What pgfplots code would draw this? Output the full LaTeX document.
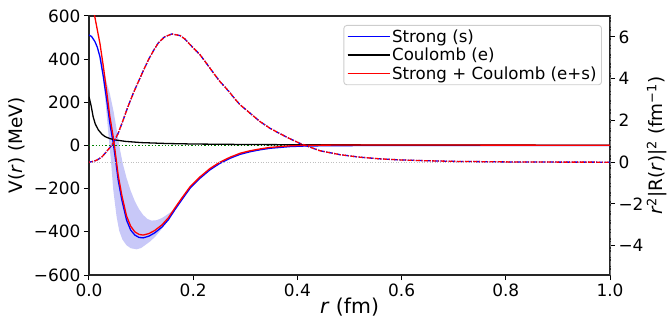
\documentclass[border=0pt]{standalone}
\usepackage{fontspec}
\setmainfont{DejaVu Sans}
\usepackage{pgfplots}
\usepackage{pgfplotstable}
\pgfplotsset{compat=1.18}

\pgfplotstableread{
r V
0 512
0.005 505
0.0115 481
0.016 455
0.021 411
0.0275 319
0.034 211
0.040 103
0.0466 10
0.051 -67
0.056 -160
0.063 -252
0.072 -345
0.080 -392
0.088 -415
0.096 -426
0.104 -428
0.115 -420
0.126 -405
0.14 -378
0.152 -345
0.165 -297
0.178 -252
0.194 -198
0.213 -152
0.232 -113
0.251 -83
0.271 -59
0.29 -41
0.309 -29
0.328 -20
0.347 -13
0.386 -5
0.42 -2
0.5 -0.5
0.6 0
1.0 0
}\strongtab

\pgfplotstableread{
r V
0 226
0.004 185
0.008 133
0.012 100
0.018 72
0.025 52
0.031 41
0.04 32
0.05 26
0.07 19
0.1 13.5
0.15 9.2
0.2 6.9
0.3 4.6
0.4 3.5
0.6 2.3
0.8 1.7
1.0 1.4
}\coultab

\pgfplotstableread{
r V
0 738
0.005 680
0.0115 592
0.016 535
0.021 473
0.0275 367
0.034 249
0.040 135
0.0466 38
0.051 -42
0.056 -137
0.063 -231
0.072 -326
0.080 -374
0.088 -400
0.096 -412
0.104 -415
0.115 -408
0.126 -394
0.14 -368
0.152 -336
0.165 -289
0.178 -244
0.194 -191
0.213 -145.5
0.232 -107
0.251 -77.5
0.271 -54
0.29 -36
0.309 -24.5
0.328 -16
0.347 -9
0.386 -1.4
0.42 1.3
0.5 2.3
0.6 2.3
0.8 1.7
1.0 1.4
}\sumtab

\pgfplotstableread{
r P
0 0
0.01 0.05
0.018 0.14
0.025 0.26
0.031 0.43
0.04 0.70
0.048 0.97
0.056 1.39
0.065 1.98
0.075 2.67
0.085 3.30
0.095 3.87
0.105 4.42
0.114 4.90
0.124 5.35
0.133 5.71
0.145 6.00
0.159 6.14
0.175 6.06
0.184 5.90
0.194 5.63
0.203 5.40
0.213 5.15
0.222 4.85
0.232 4.51
0.241 4.20
0.251 3.87
0.261 3.60
0.271 3.31
0.28 3.03
0.29 2.75
0.309 2.35
0.328 1.95
0.347 1.63
0.367 1.36
0.386 1.12
0.405 0.90
0.443 0.55
0.482 0.36
0.52 0.24
0.559 0.16
0.597 0.11
0.641 0.075
0.7 0.04
0.8 0.015
0.9 0.005
1.0 0.002
}\wavetab

\definecolor{dgreen}{RGB}{0,128,0}
\definecolor{bandblue}{RGB}{200,200,248}
\definecolor{legframe}{RGB}{205,205,205}

\begin{document}
\begin{tikzpicture}
\path[use as bounding box] (-89bp,-50bp) rectangle (579bp,275bp);
\begin{axis}[
  at={(0,0)}, anchor=south west,
  scale only axis, width=521bp, height=259bp,
  xmin=0, xmax=1, ymin=-600, ymax=600,
  xtick={0,0.2,0.4,0.6,0.8,1.0}, xticklabels={0.0,0.2,0.4,0.6,0.8,1.0},
  ytick={-600,-400,-200,0,200,400,600},
  yticklabels={−600,−400,−200,0,200,400,600},
  tick align=outside, xtick pos=bottom, ytick pos=left,
  major tick length=5bp,
  every tick/.style={black, line width=1bp},
  axis line style={line width=1.1bp, black!85},
  tick label style={font=\fontsize{17}{20}\selectfont},
  every axis x label/.style={at={(axis description cs:0.5,0)}, anchor=center, yshift=-32bp, font=\fontsize{20.5}{24}\selectfont},
  every axis y label/.style={at={(axis description cs:0,0.5)}, rotate=90, anchor=center, yshift=72bp, font=\fontsize{18.5}{22}\selectfont},
  xlabel={\textit{r} (fm)},
  ylabel={V(\textit{r}) (MeV)},
  legend cell align=left,
  legend style={at={(axis description cs:0.9846,0.9653)}, anchor=north east,
    draw=legframe, line width=0.9bp, rounded corners=3bp, fill=white,
    font=\fontsize{16.7}{19}\selectfont, inner xsep=3bp, inner ysep=2bp,
    row sep=0.5bp},
  legend image code/.code={\draw[#1, line width=1.3bp] (0bp,0bp) -- (34bp,0bp); \path (0bp,0bp) -- (42bp,0bp);},
]
\addplot[forget plot, fill=bandblue, draw=none] coordinates {
(0.021,412) (0.026,330) (0.031,220) (0.0355,100) (0.0385,20) (0.042,-67)
(0.0466,-206) (0.053,-330) (0.058,-395) (0.064,-435) (0.072,-462) (0.08,-476)
(0.0914,-481) (0.1,-475) (0.107,-463) (0.117,-445) (0.127,-423) (0.14,-385) (0.15,-350)
(0.17,-278) (0.16,-303) (0.149,-322) (0.14,-336) (0.13,-346) (0.12,-348) (0.112,-340)
(0.104,-322) (0.096,-295) (0.088,-258) (0.08,-210) (0.072,-150) (0.065,-85) (0.06,-25)
(0.056,30) (0.052,90) (0.047,160) (0.04,240) (0.033,300) (0.027,370) (0.023,410)
} -- cycle;
\addplot[forget plot, dgreen, line width=1.2bp, dash pattern=on 1.3bp off 2bp] coordinates {(0,0) (1,0)};
\addplot[blue, line width=1.3bp] table[x=r,y=V] {\strongtab};
\addlegendentry{Strong (s)}
\addplot[black, line width=1.3bp] table[x=r,y=V] {\coultab};
\addlegendentry{Coulomb (e)}
\addplot[red, line width=1.3bp] table[x=r,y=V] {\sumtab};
\addlegendentry{Strong + Coulomb (e+s)}
\end{axis}
\begin{axis}[
  at={(0,0)}, anchor=south west,
  scale only axis, width=521bp, height=259bp,
  xmin=0, xmax=1, ymin=-5.4, ymax=7.0,
  axis x line=none, axis y line*=right,
  ytick={-4,-2,0,2,4,6}, yticklabels={−4,−2,0,2,4,6},
  tick align=outside, major tick length=5bp,
  every tick/.style={black, line width=1bp},
  y axis line style={black!55, line width=1bp, dash pattern=on 5bp off 1.5bp on 1.2bp off 1.5bp},
  tick label style={font=\fontsize{17}{20}\selectfont},
  every axis y label/.style={at={(axis description cs:1,0.5)}, rotate=90, anchor=center, yshift=-47bp, font=\fontsize{18.5}{22}\selectfont},
  ylabel={\textit{r}\textsuperscript{2}|R(\textit{r})|\textsuperscript{2} (fm\textsuperscript{−1})},
]
\addplot[black!25, line width=1bp, dash pattern=on 1bp off 1.6bp] coordinates {(0,0) (1,0)};
\addplot[blue, line width=1.3bp, dash pattern=on 4bp off 1.5bp on 1.2bp off 1.5bp] table[x=r,y=P] {\wavetab};
\addplot[red, line width=1.3bp, dash pattern=on 4bp off 1.5bp on 1.2bp off 1.5bp, dash phase=2.5bp] table[x=r,y=P] {\wavetab};
\end{axis}
\end{tikzpicture}
\end{document}
